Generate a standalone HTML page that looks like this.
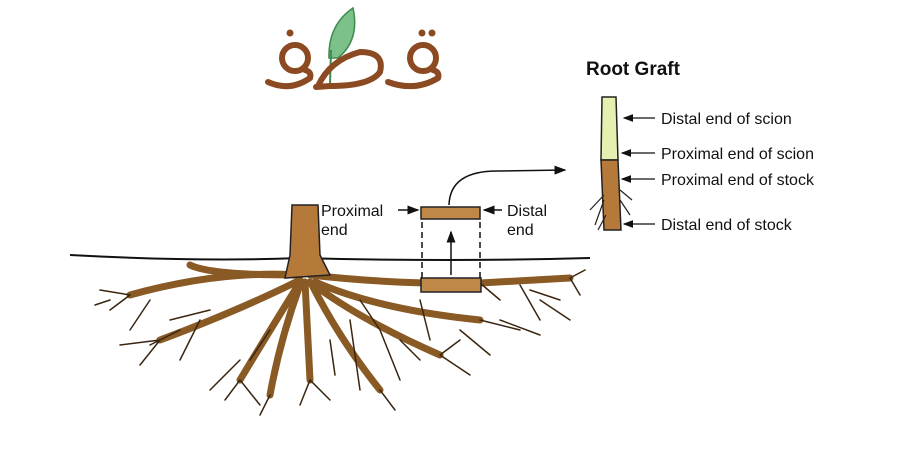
<!DOCTYPE html>
<html><head><meta charset="utf-8"><style>
body{margin:0;background:#fff;width:900px;height:450px;overflow:hidden}
svg{display:block}
text{font-family:"Liberation Sans",sans-serif;fill:#111}
</style></head><body>
<svg width="900" height="450" viewBox="0 0 900 450">
<defs><marker id="a" markerWidth="8" markerHeight="8" refX="7" refY="4" orient="auto"><path d="M0,1 L8,4 L0,7z" fill="#111"/></marker></defs>
<!-- logo -->
<path d="M329,58 Q328,25 353,8 Q360,40 338,58 Z" fill="#7cc08a" stroke="#3f8a4f" stroke-width="1.5"/>
<path d="M330,85 L331,50" stroke="#3f8a4f" stroke-width="2"/>
<g fill="none" stroke="#8b4a22" stroke-width="6" stroke-linecap="round">
<circle cx="295" cy="58" r="13"/>
<path d="M268,82 Q290,92 310,78 Q312,72 305,70"/>
<path d="M318,86 Q330,60 360,52 Q385,52 380,72 Q370,86 330,86 L316,87"/>
<circle cx="423" cy="58" r="13"/>
<path d="M388,82 Q415,92 438,78 Q440,72 433,70"/>
</g>
<g fill="#8b4a22"><circle cx="290" cy="33" r="3.5"/><circle cx="422" cy="33" r="3.5"/><circle cx="432" cy="33" r="3.5"/></g>
<!-- ground -->
<path d="M70,255 Q200,262 300,258 Q450,262 590,258" stroke="#111" stroke-width="2" fill="none"/>
<!-- roots -->
<g stroke="#8a5a25" stroke-linecap="round" fill="none">
<g stroke-width="7">
<path d="M300,275 Q220,270 130,295"/><path d="M310,275 Q400,285 480,283 L570,278"/>
<path d="M300,280 Q240,310 160,340"/><path d="M310,282 Q360,320 440,355"/>
<path d="M305,282 L310,380"/><path d="M300,282 Q270,330 240,380"/>
<path d="M315,282 Q380,310 480,320"/><path d="M295,275 Q210,275 190,265"/>
<path d="M300,285 Q280,340 270,395"/><path d="M312,285 Q340,340 380,390"/>
</g>
<g stroke="#3a2510" stroke-width="1.5">
<path d="M130,295 L100,290 M130,295 L110,310 M160,340 L120,345 M160,340 L140,365 M240,380 L225,400 M240,380 L260,405 M310,380 L300,405 M310,380 L330,400 M440,355 L470,375 M440,355 L460,340 M480,320 L520,330 M570,278 L585,270 M570,278 L580,295 M520,285 L540,320 M540,300 L570,320 M200,320 L180,360 M380,330 L400,380 M350,320 L360,390 M270,330 L250,360 M420,300 L430,340 M480,283 L500,300 M150,300 L130,330 M360,300 L380,330 M270,395 L260,415 M380,390 L395,410 M180,330 L150,345 M210,310 L170,320 M110,300 L95,305 M400,340 L420,360 M460,330 L490,355 M500,320 L540,335 M530,290 L560,300 M240,360 L210,390 M330,340 L335,375"/>
</g>
</g>
<!-- trunk -->
<path d="M292,205 L318,205 L320,255 L330,275 L285,278 L290,255 Z" fill="#b5793a" stroke="#222" stroke-width="1.5"/>
<!-- cut piece -->
<rect x="421" y="278" width="60" height="14" fill="#c08848" stroke="#222" stroke-width="1.5"/>
<rect x="421" y="207" width="59" height="12" fill="#c08848" stroke="#222" stroke-width="1.5"/>
<g stroke="#111" stroke-width="1.5" stroke-dasharray="6,4"><path d="M422,222 V278 M480,222 V278"/></g>
<path d="M451,275 V232" stroke="#111" stroke-width="1.5" marker-end="url(#a)"/>
<path d="M449,205 Q450,170 500,171 L565,170" stroke="#111" stroke-width="1.5" fill="none" marker-end="url(#a)"/>
<path d="M398,210 L418,210" stroke="#111" stroke-width="1.5" marker-end="url(#a)"/>
<path d="M502,210 L484,210" stroke="#111" stroke-width="1.5" marker-end="url(#a)"/>
<text x="321" y="216" font-size="16">Proximal</text><text x="321" y="235" font-size="16">end</text>
<text x="507" y="216" font-size="16">Distal</text><text x="507" y="235" font-size="16">end</text>
<!-- graft -->
<text x="586" y="75" font-size="19" font-weight="bold">Root Graft</text>
<path d="M602,97 L616,97 L618,160 L601,160 Z" fill="#e6eeb0" stroke="#222" stroke-width="1.5"/>
<path d="M601,160 L618,160 L621,230 L604,230 Z" fill="#b5793a" stroke="#222" stroke-width="1.5"/>
<g stroke="#222" stroke-width="1.2" fill="none"><path d="M604,195 L590,210 M604,200 L595,225 M620,190 L632,200 M620,200 L630,215 M606,215 L598,230"/></g>
<g stroke="#111" stroke-width="1.3">
<path d="M655,118 L624,118" marker-end="url(#a)"/>
<path d="M655,153 L622,153" marker-end="url(#a)"/>
<path d="M655,179 L622,179" marker-end="url(#a)"/>
<path d="M655,224 L624,224" marker-end="url(#a)"/>
</g>
<g font-size="16"><text x="661" y="124">Distal end of scion</text><text x="661" y="159">Proximal end of scion</text><text x="661" y="185">Proximal end of stock</text><text x="661" y="230">Distal end of stock</text></g>
</svg>
</body></html>
